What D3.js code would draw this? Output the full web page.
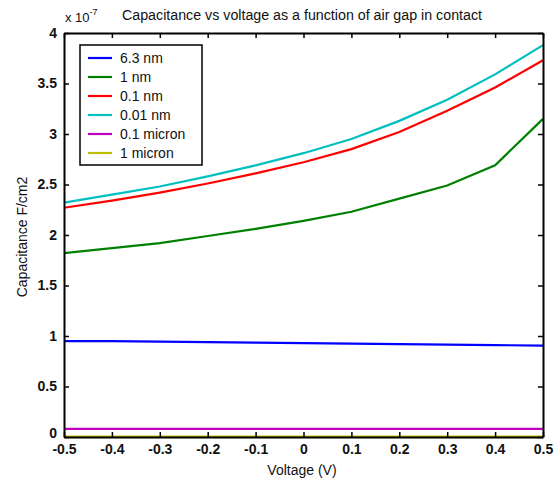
<!DOCTYPE html>
<html><head><meta charset="utf-8">
<script src="https://cdn.jsdelivr.net/npm/d3@7"></script>
<style>body{margin:0;background:#fff;}svg{display:block;font-family:"Liberation Sans",Arial,sans-serif;}</style>
</head><body>
<svg id="c" width="557" height="484"></svg>
<script>
const voltage = [-0.5,-0.4,-0.3,-0.2,-0.1,0,0.1,0.2,0.3,0.4,0.5];
const seriesNames = ["6.3 nm","1 nm","0.1 nm","0.01 nm","0.1 micron","1 micron"];
const seriesColors = ["#0000ff","#008000","#ff0000","#00bfbf","#bf00bf","#bfbf00"];
const cap_6_3nm   = [0.95,0.95,0.945,0.94,0.935,0.93,0.925,0.92,0.915,0.91,0.905];
const cap_1nm     = [1.82,1.87,1.92,1.99,2.06,2.14,2.23,2.36,2.49,2.69,3.15];
const cap_0_1nm   = [2.27,2.34,2.42,2.51,2.61,2.72,2.85,3.02,3.23,3.46,3.73];
const cap_0_01nm  = [2.32,2.40,2.48,2.58,2.69,2.81,2.95,3.13,3.34,3.59,3.88];
const cap_0_1um   = [0.08,0.08,0.08,0.08,0.08,0.08,0.08,0.08,0.08,0.08,0.08];
const cap_1um     = [0.005,0.005,0.005,0.005,0.005,0.005,0.005,0.005,0.005,0.005,0.005];
const xTicks = [-0.5,-0.4,-0.3,-0.2,-0.1,0,0.1,0.2,0.3,0.4,0.5];
const yTicks = [0,0.5,1,1.5,2,2.5,3,3.5,4];
const allSeries = [cap_6_3nm,cap_1nm,cap_0_1nm,cap_0_01nm,cap_0_1um,cap_1um];

const L=64,R=543,T=33,B=437;
const svg=d3.select("#c");
const x=d3.scaleLinear().domain([-0.5,0.5]).range([L,R]);
const y=d3.scaleLinear().domain([0,4]).range([B,T]);

// lines
const line=d3.line().x((d,i)=>x(voltage[i])).y(d=>y(d));
allSeries.forEach((s,k)=>{
  svg.append("path").attr("d",line(s)).attr("fill","none")
    .attr("stroke",seriesColors[k]).attr("stroke-width",2.2);
});

// axes (MATLAB box with inward ticks)
const fmt=d=>d===0?"0":String(d);
const gb=svg.append("g").attr("transform",`translate(0,${B})`)
  .call(d3.axisBottom(x).tickValues(xTicks).tickSizeInner(-5).tickSizeOuter(0).tickPadding(7).tickFormat(fmt));
const gt=svg.append("g").attr("transform",`translate(0,${T})`)
  .call(d3.axisTop(x).tickValues(xTicks).tickSizeInner(-5).tickSizeOuter(0).tickFormat(""));
const gl=svg.append("g").attr("transform",`translate(${L},0)`)
  .call(d3.axisLeft(y).tickValues(yTicks).tickSizeInner(-5).tickSizeOuter(0).tickPadding(7).tickFormat(fmt));
const gr=svg.append("g").attr("transform",`translate(${R},0)`)
  .call(d3.axisRight(y).tickValues(yTicks).tickSizeInner(-5).tickSizeOuter(0).tickFormat(""));
[gb,gt,gl,gr].forEach(g=>{
  g.select(".domain").attr("stroke","#000").attr("stroke-width",2);
  g.selectAll(".tick line").attr("stroke","#000").attr("stroke-width",1.5);
  g.selectAll("text").attr("font-size",14).attr("font-weight","bold").attr("fill","#111")
   .attr("font-family","'Liberation Sans',Arial,sans-serif");
});
// nudge the y "0" label up slightly so it doesn't collide with "-0.5"
gl.selectAll(".tick").filter(d=>d===0).select("text").attr("dy","0.05em");

// titles
svg.append("text").attr("x",302).attr("y",20).attr("text-anchor","middle")
  .attr("font-size",14).attr("fill","#111").attr("textLength",360).attr("lengthAdjust","spacingAndGlyphs")
  .text("Capacitance vs voltage as a function of air gap in contact");
const ex=svg.append("text").attr("x",65).attr("y",22).attr("font-size",13).attr("fill","#111");
ex.append("tspan").text("x 10");
ex.append("tspan").attr("dy",-7).attr("font-size",9).text("-7");
svg.append("text").attr("x",302).attr("y",475).attr("text-anchor","middle")
  .attr("font-size",14).attr("fill","#111").text("Voltage (V)");
svg.append("text").attr("transform",`translate(27,237) rotate(-90)`).attr("text-anchor","middle")
  .attr("font-size",14).attr("fill","#111").text("Capacitance F/cm2");

// legend
const lg=svg.append("g");
lg.append("rect").attr("x",80).attr("y",45).attr("width",122).attr("height",120)
  .attr("fill","#fff").attr("stroke","#000").attr("stroke-width",1.5);
seriesNames.forEach((n,k)=>{
  const yy=58+k*19;
  lg.append("line").attr("x1",88).attr("x2",112).attr("y1",yy).attr("y2",yy)
    .attr("stroke",seriesColors[k]).attr("stroke-width",2.2);
  lg.append("text").attr("x",120).attr("y",yy+5).attr("font-size",14).attr("fill","#111").text(n);
});
</script>
</body></html>
